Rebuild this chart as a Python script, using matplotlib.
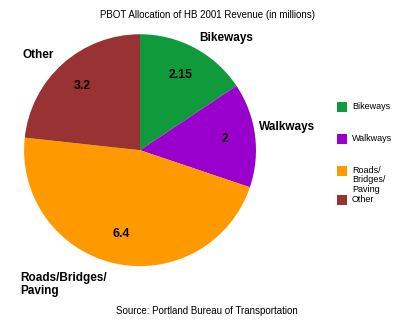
import numpy as np
import matplotlib
matplotlib.use("Agg")
import matplotlib.pyplot as plt
from matplotlib.patches import Rectangle

plt.rcParams["font.family"] = ["Liberation Sans", "DejaVu Sans"]

# HB 2001 revenue split, in millions
categories = ["Bikeways", "Walkways", "Roads/Bridges/Paving", "Other"]
values = [2.15, 2, 6.4, 3.2]
value_labels = ["2.15", "2", "6.4", "3.2"]
legend_labels = ["Bikeways", "Walkways", "Roads/\nBridges/\nPaving", "Other"]
slice_labels = ["Bikeways", "Walkways", "Roads/Bridges/\nPaving", "Other"]
colors = ["#0f9a3c", "#9900cc", "#ff9900", "#993333"]

fig = plt.figure(figsize=(4.1, 3.23), dpi=100)
ax = fig.add_axes([0.0585, 0.176, 0.566, 0.718])

wedges, _ = ax.pie(values, colors=colors, startangle=90, counterclock=False,
                   radius=1.0, wedgeprops=dict(linewidth=0))
ax.set_xlim(-1, 1)
ax.set_ylim(-1, 1)
ax.set_aspect("equal")

# value inside each slice
for w, txt in zip(wedges, value_labels):
    mid = np.deg2rad((w.theta1 + w.theta2) / 2)
    ax.text(0.74 * np.cos(mid), 0.74 * np.sin(mid), txt, ha="center",
            va="center", fontsize=8.8, fontweight="bold")

# category names around the pie
label_pos = [(0.74, 0.97, "center"), (1.03, 0.20, "left"),
             (-1.03, -1.16, "left"), (-1.01, 0.82, "left")]
for (x, y, ha), txt in zip(label_pos, slice_labels):
    ax.text(x, y, txt, ha=ha, va="center", fontsize=8.5, fontweight="bold",
            clip_on=False, linespacing=1.05)

fig.text(0.505, 0.955, "PBOT Allocation of HB 2001 Revenue (in millions)",
         ha="center", va="center", fontsize=7)
fig.text(0.505, 0.037, "Source: Portland Bureau of Transportation",
         ha="center", va="center", fontsize=7)

# legend, drawn by hand
legend_y = [107, 139, 171, 200]
for y, lab, c in zip(legend_y, legend_labels, colors):
    fig.patches.append(Rectangle((337 / 410, 1 - (y + 5) / 323), 10 / 410, 10 / 323,
                                 transform=fig.transFigure, facecolor=c,
                                 edgecolor="none"))
    fig.text(352 / 410, 1 - (y - 5) / 323, lab, ha="left", va="top",
             fontsize=6.5, linespacing=1.05)

fig.savefig("out.png", dpi=100)
